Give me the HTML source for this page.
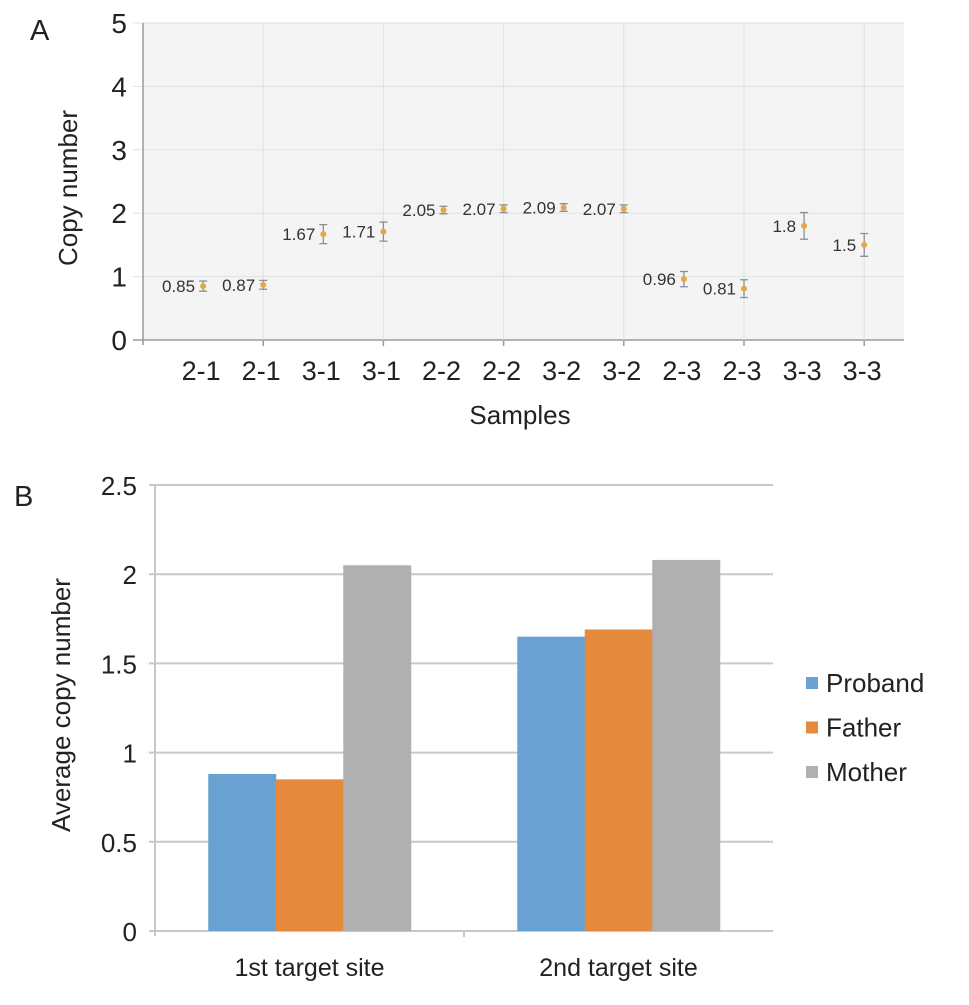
<!DOCTYPE html>
<html><head><meta charset="utf-8"><style>
html,body{margin:0;padding:0;background:#fff;}
svg{display:block;font-family:"Liberation Sans",Arial,sans-serif;}
</style></head><body>
<svg id="chart" width="969" height="1005" viewBox="0 0 969 1005">
<text x="30" y="40" font-size="29" fill="#222">A</text>
<text x="14" y="506" font-size="29" fill="#222">B</text>
<g id="ga"></g>
<g id="gb"></g>
</svg>
<script>
// Panel A data
const samplesA = ["2-1","2-1","3-1","3-1","2-2","2-2","3-2","3-2","2-3","2-3","3-3","3-3"];
const copyA = [0.85,0.87,1.67,1.71,2.05,2.07,2.09,2.07,0.96,0.81,1.8,1.5];
const errA = [0.08,0.07,0.15,0.15,0.06,0.06,0.06,0.06,0.12,0.14,0.21,0.18];
const ticksA = [0,1,2,3,4,5];
// Panel B data
const sitesB = ["1st target site","2nd target site"];
const probandB = [0.88,1.65];
const fatherB = [0.85,1.69];
const motherB = [2.05,2.08];
const ticksB = [0,0.5,1,1.5,2,2.5];
const tickLabelsB = ["0","0.5","1","1.5","2","2.5"];

const NS="http://www.w3.org/2000/svg";
function mk(tag,attrs,parent,text){const e=document.createElementNS(NS,tag);for(const k in attrs)e.setAttribute(k,attrs[k]);if(text!==undefined)e.textContent=text;parent.appendChild(e);return e;}

// ---- Panel A ----
const ga=document.getElementById('ga');
const aL=143,aR=904,aT=23,aB=340;
const yA=v=>aB-(v/5)*(aB-aT);
const xA=i=>aL+60.1*(i+1);
let r=mk('rect',{x:aL,y:aT,width:aR-aL,height:aB-aT,fill:'#f4f4f4'},ga);


ticksA.forEach(t=>{
  let l=mk('line',{x1:aL-10,x2:aR,y1:yA(t),y2:yA(t),stroke:t===0?'#9a9a9a':'#e0e0e0','stroke-width':t===0?1.5:1},ga);
  
  
  let tx=mk('text',{x:aL-16,y:yA(t)+10,'font-size':28,'text-anchor':'end',fill:'#222'},ga,String(t));
  
  
});
for(let k=1;k<12;k+=2){
  let l=mk('line',{x1:xA(k),x2:xA(k),y1:aT,y2:aB+6,stroke:'#e0e0e0','stroke-width':1},ga);
  
  
  let t=mk('line',{x1:xA(k),x2:xA(k),y1:aB,y2:aB+6,stroke:'#9a9a9a','stroke-width':1.5},ga);
  
  
}
let ax=mk('line',{x1:aL,x2:aL,y1:aT,y2:aB+5,stroke:'#9a9a9a','stroke-width':1.5},ga);


samplesA.forEach((s,i)=>{
  const x=xA(i);
  let t=mk('text',{x:x-2,y:380,'font-size':27,'text-anchor':'middle',fill:'#222'},ga,s);
  
  
  const v=copyA[i],e=errA[i];
  let eb=mk('path',{d:`M${x-4},${yA(v+e)}H${x+4}M${x},${yA(v+e)}V${yA(v-e)}M${x-4},${yA(v-e)}H${x+4}`,stroke:'#8a8f9a','stroke-width':1.3,fill:'none'},ga);
  
  
  let c=mk('circle',{cx:x,cy:yA(v),r:3,fill:'#e0a84a'},ga);
  
  
  let lb=mk('text',{x:x-8,y:yA(v)+6,'font-size':17,'text-anchor':'end',fill:'#333'},ga,String(v));
  
  
});
let yt=mk('text',{x:0,y:0,'font-size':26,'text-anchor':'middle',fill:'#222',transform:'translate(77,188) rotate(-90)'},ga,'Copy number');


let xt=mk('text',{x:520,y:424,'font-size':26,'text-anchor':'middle',fill:'#222'},ga,'Samples');



// ---- Panel B ----
const gb=document.getElementById('gb');
const bL=155,bR=773,bT=485,bB=931;
const yB=v=>bB-(v/2.5)*(bB-bT);
const catW=(bR-bL)/sitesB.length;
ticksB.forEach((t,i)=>{
  let l=mk('line',{x1:bL-6,x2:bR,y1:yB(t),y2:yB(t),stroke:'#c8c8c8','stroke-width':2},gb);
  
  
  let tx=mk('text',{x:bL-18,y:yB(t)+10,'font-size':26,'text-anchor':'end',fill:'#222'},gb,tickLabelsB[i]);
  
  
});
let bax=mk('line',{x1:bL,x2:bL,y1:bT,y2:bB+5,stroke:'#c8c8c8','stroke-width':2},gb);


for(let k=1;k<sitesB.length;k++){
  let t=mk('line',{x1:bL+catW*k,x2:bL+catW*k,y1:bB,y2:bB+6,stroke:'#c8c8c8','stroke-width':2},gb);
  
  
}
const series=[[probandB,'#69a2d2','proband'],[fatherB,'#e68a3e','father'],[motherB,'#b0b0b0','mother']];
const barW=67.5;
sitesB.forEach((s,i)=>{
  const cx=bL+catW*(i+0.5);
  series.forEach((sr,j)=>{
    const v=sr[0][i];
    const x=cx-1.5*barW+j*barW;
    let b=mk('rect',{x:x,y:yB(v),width:barW+0.5,height:bB-yB(v),fill:sr[1]},gb);
    
    
  });
  let t=mk('text',{x:cx,y:976,'font-size':25,'text-anchor':'middle',fill:'#222'},gb,s);
  
  
});
let ybt=mk('text',{x:0,y:0,'font-size':26,'text-anchor':'middle',fill:'#222',transform:'translate(70,705) rotate(-90)'},gb,'Average copy number');


const legNames=['Proband','Father','Mother'];
series.forEach((sr,j)=>{
  const y=683+j*44.5;
  let sq=mk('rect',{x:806,y:y-6,width:12,height:12,fill:sr[1]},gb);
  
  
  let t=mk('text',{x:826,y:y+9,'font-size':26,fill:'#222'},gb,legNames[j]);
  
  
});
</script>
</body></html>
